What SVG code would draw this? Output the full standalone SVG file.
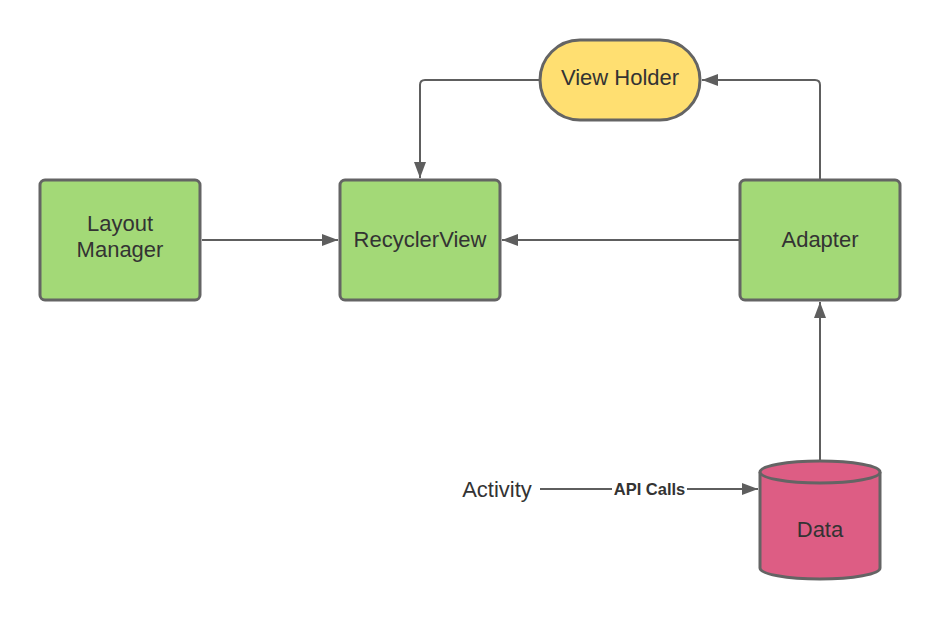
<svg xmlns="http://www.w3.org/2000/svg" width="940" height="620" viewBox="0 0 940 620">
<style>
.box{fill:#a3d977;stroke:#646464;stroke-width:3}
.lbl{font-family:"Liberation Sans",Arial,sans-serif;font-size:22px;fill:#333;text-anchor:middle}
.conn{fill:none;stroke:#5e5e5e;stroke-width:2}
</style>
<defs>
<marker id="arr" viewBox="0 0 16 12" refX="16" refY="6" markerWidth="16" markerHeight="12" markerUnits="userSpaceOnUse" orient="auto">
<path d="M0,0 L16,6 L0,12 Z" fill="#5e5e5e"/>
</marker>
</defs>
<rect width="940" height="620" fill="#fff"/>
<g id="connectors">
<path class="conn" d="M540,80 H425 Q420,80 420,85 V178" marker-end="url(#arr)"/>
<path class="conn" d="M820,180 V85 Q820,80 815,80 H702" marker-end="url(#arr)"/>
<path class="conn" d="M202,240 H338" marker-end="url(#arr)"/>
<path class="conn" d="M740,240 H502" marker-end="url(#arr)"/>
<path class="conn" d="M820,460 V302" marker-end="url(#arr)"/>
<path class="conn" d="M540,489 H612 M687,489 H758" marker-end="url(#arr)"/>
<text x="649.5" y="495" font-family="'Liberation Sans',Arial,sans-serif" font-size="16.5" font-weight="bold" fill="#333" text-anchor="middle">API Calls</text>
</g>
<g id="view-holder">
<rect x="540" y="40" width="160" height="80" rx="40" fill="#ffdf71" stroke="#646464" stroke-width="3"/>
<text class="lbl" x="620" y="85">View Holder</text>
</g>
<g id="layout-manager">
<rect class="box" x="40" y="180" width="160" height="120" rx="5"/>
<text class="lbl" x="120" y="231">Layout</text>
<text class="lbl" x="120" y="257">Manager</text>
</g>
<g id="recyclerview">
<rect class="box" x="340" y="180" width="160" height="120" rx="5"/>
<text class="lbl" x="420" y="247">RecyclerView</text>
</g>
<g id="adapter">
<rect class="box" x="740" y="180" width="160" height="120" rx="5"/>
<text class="lbl" x="820" y="247">Adapter</text>
</g>
<g id="data">
<path d="M760,472 V568 A60,11 0 0 0 880,568 V472" fill="#dd5d84" stroke="#646464" stroke-width="3"/>
<ellipse cx="820" cy="472" rx="60" ry="11" fill="#dd5d84" stroke="#646464" stroke-width="3"/>
<text class="lbl" x="820" y="537">Data</text>
</g>
<g id="activity">
<text class="lbl" x="497" y="497">Activity</text>
</g>
</svg>
